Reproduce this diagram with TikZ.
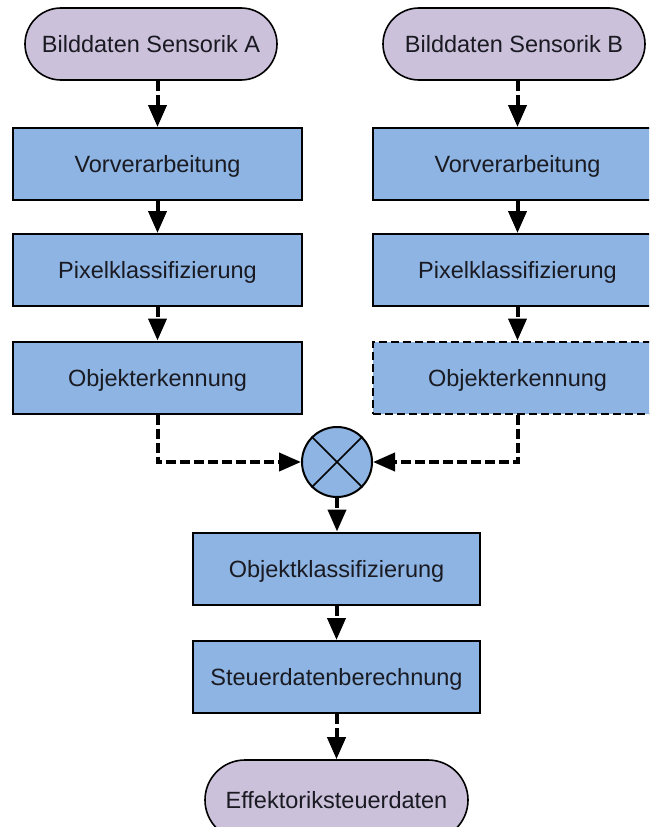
\documentclass[tikz,border=0pt]{standalone}
\usepackage{fontspec}
\setmainfont{Liberation Sans}
\usetikzlibrary{arrows.meta}
\definecolor{boxblue}{HTML}{8DB4E2}
\definecolor{pilllilac}{HTML}{CCC1DA}
\definecolor{inkcol}{HTML}{1A1A22}
\begin{document}
\begin{tikzpicture}[x=1pt,y=-1pt,
  lbl/.style={font=\fontsize{23.5}{28}\selectfont,text=inkcol,text height=17pt,text depth=0pt,inner sep=0pt},
  proc/.style={lbl,draw=black,line width=2pt,fill=boxblue,minimum width=289pt,minimum height=72pt},
  procdash/.style={proc,dash pattern=on 8pt off 4pt},
  term/.style={lbl,draw=black,line width=1.6pt,fill=pilllilac,rounded corners=36pt,minimum height=72pt},
  mixer/.style={circle,draw=black,line width=2pt,fill=boxblue,minimum size=70pt,inner sep=0pt},
  flow/.style={line width=4pt,dash pattern=on 10pt off 4pt,-{Triangle[length=22pt,width=18pt]}}]
\useasboundingbox (0,0) rectangle (649,827);
\clip (0,0) rectangle (649,827);
\fill[white] (0,0) rectangle (649,827);

% left column
\node[term,minimum width=252pt] (inA) at (151,44) {Bilddaten Sensorik A};
\node[proc] (vorA) at (157.5,164) {Vorverarbeitung};
\node[proc] (pixA) at (157.5,270) {Pixelklassifizierung};
\node[proc] (objA) at (157.5,377.5) {Objekterkennung};

% right column
\node[term,minimum width=262pt] (inB) at (514,44) {Bilddaten Sensorik B};
\node[proc] (vorB) at (517.5,164) {Vorverarbeitung};
\node[proc] (pixB) at (517.5,270) {Pixelklassifizierung};
\node[procdash] (objB) at (517.5,377.5) {Objekterkennung};

% fusion
\node[mixer] (mix) at (337,462) {};
\draw[line width=1.6pt] (mix.45) -- (mix.225) (mix.135) -- (mix.315);

% lower chain
\node[proc,minimum width=287pt] (klass) at (336.5,568.5) {Objektklassifizierung};
\node[proc,minimum width=287pt] (steu) at (336.5,677) {Steuerdatenberechnung};
\node[term,minimum width=263pt,minimum height=80pt,rounded corners=40pt] (out) at (336.5,800) {Effektoriksteuerdaten};

% connectors
\draw[flow] (vorA.north |- inA.south) -- (vorA.north);
\draw[flow] (vorA) -- (pixA);
\draw[flow] (pixA) -- (objA);
\draw[flow] (vorB.north |- inB.south) -- (vorB.north);
\draw[flow] (vorB) -- (pixB);
\draw[flow] (pixB) -- (objB);
\draw[flow] (objA.south) |- (mix.west);
\draw[flow] (objB.south) |- (mix.east);
\draw[flow] (mix.south) -- (mix.south |- klass.north);
\draw[flow] (klass.south -| steu.north) -- (steu.north);
\draw[flow] (steu.south) -- (out.north);
\end{tikzpicture}
\end{document}
